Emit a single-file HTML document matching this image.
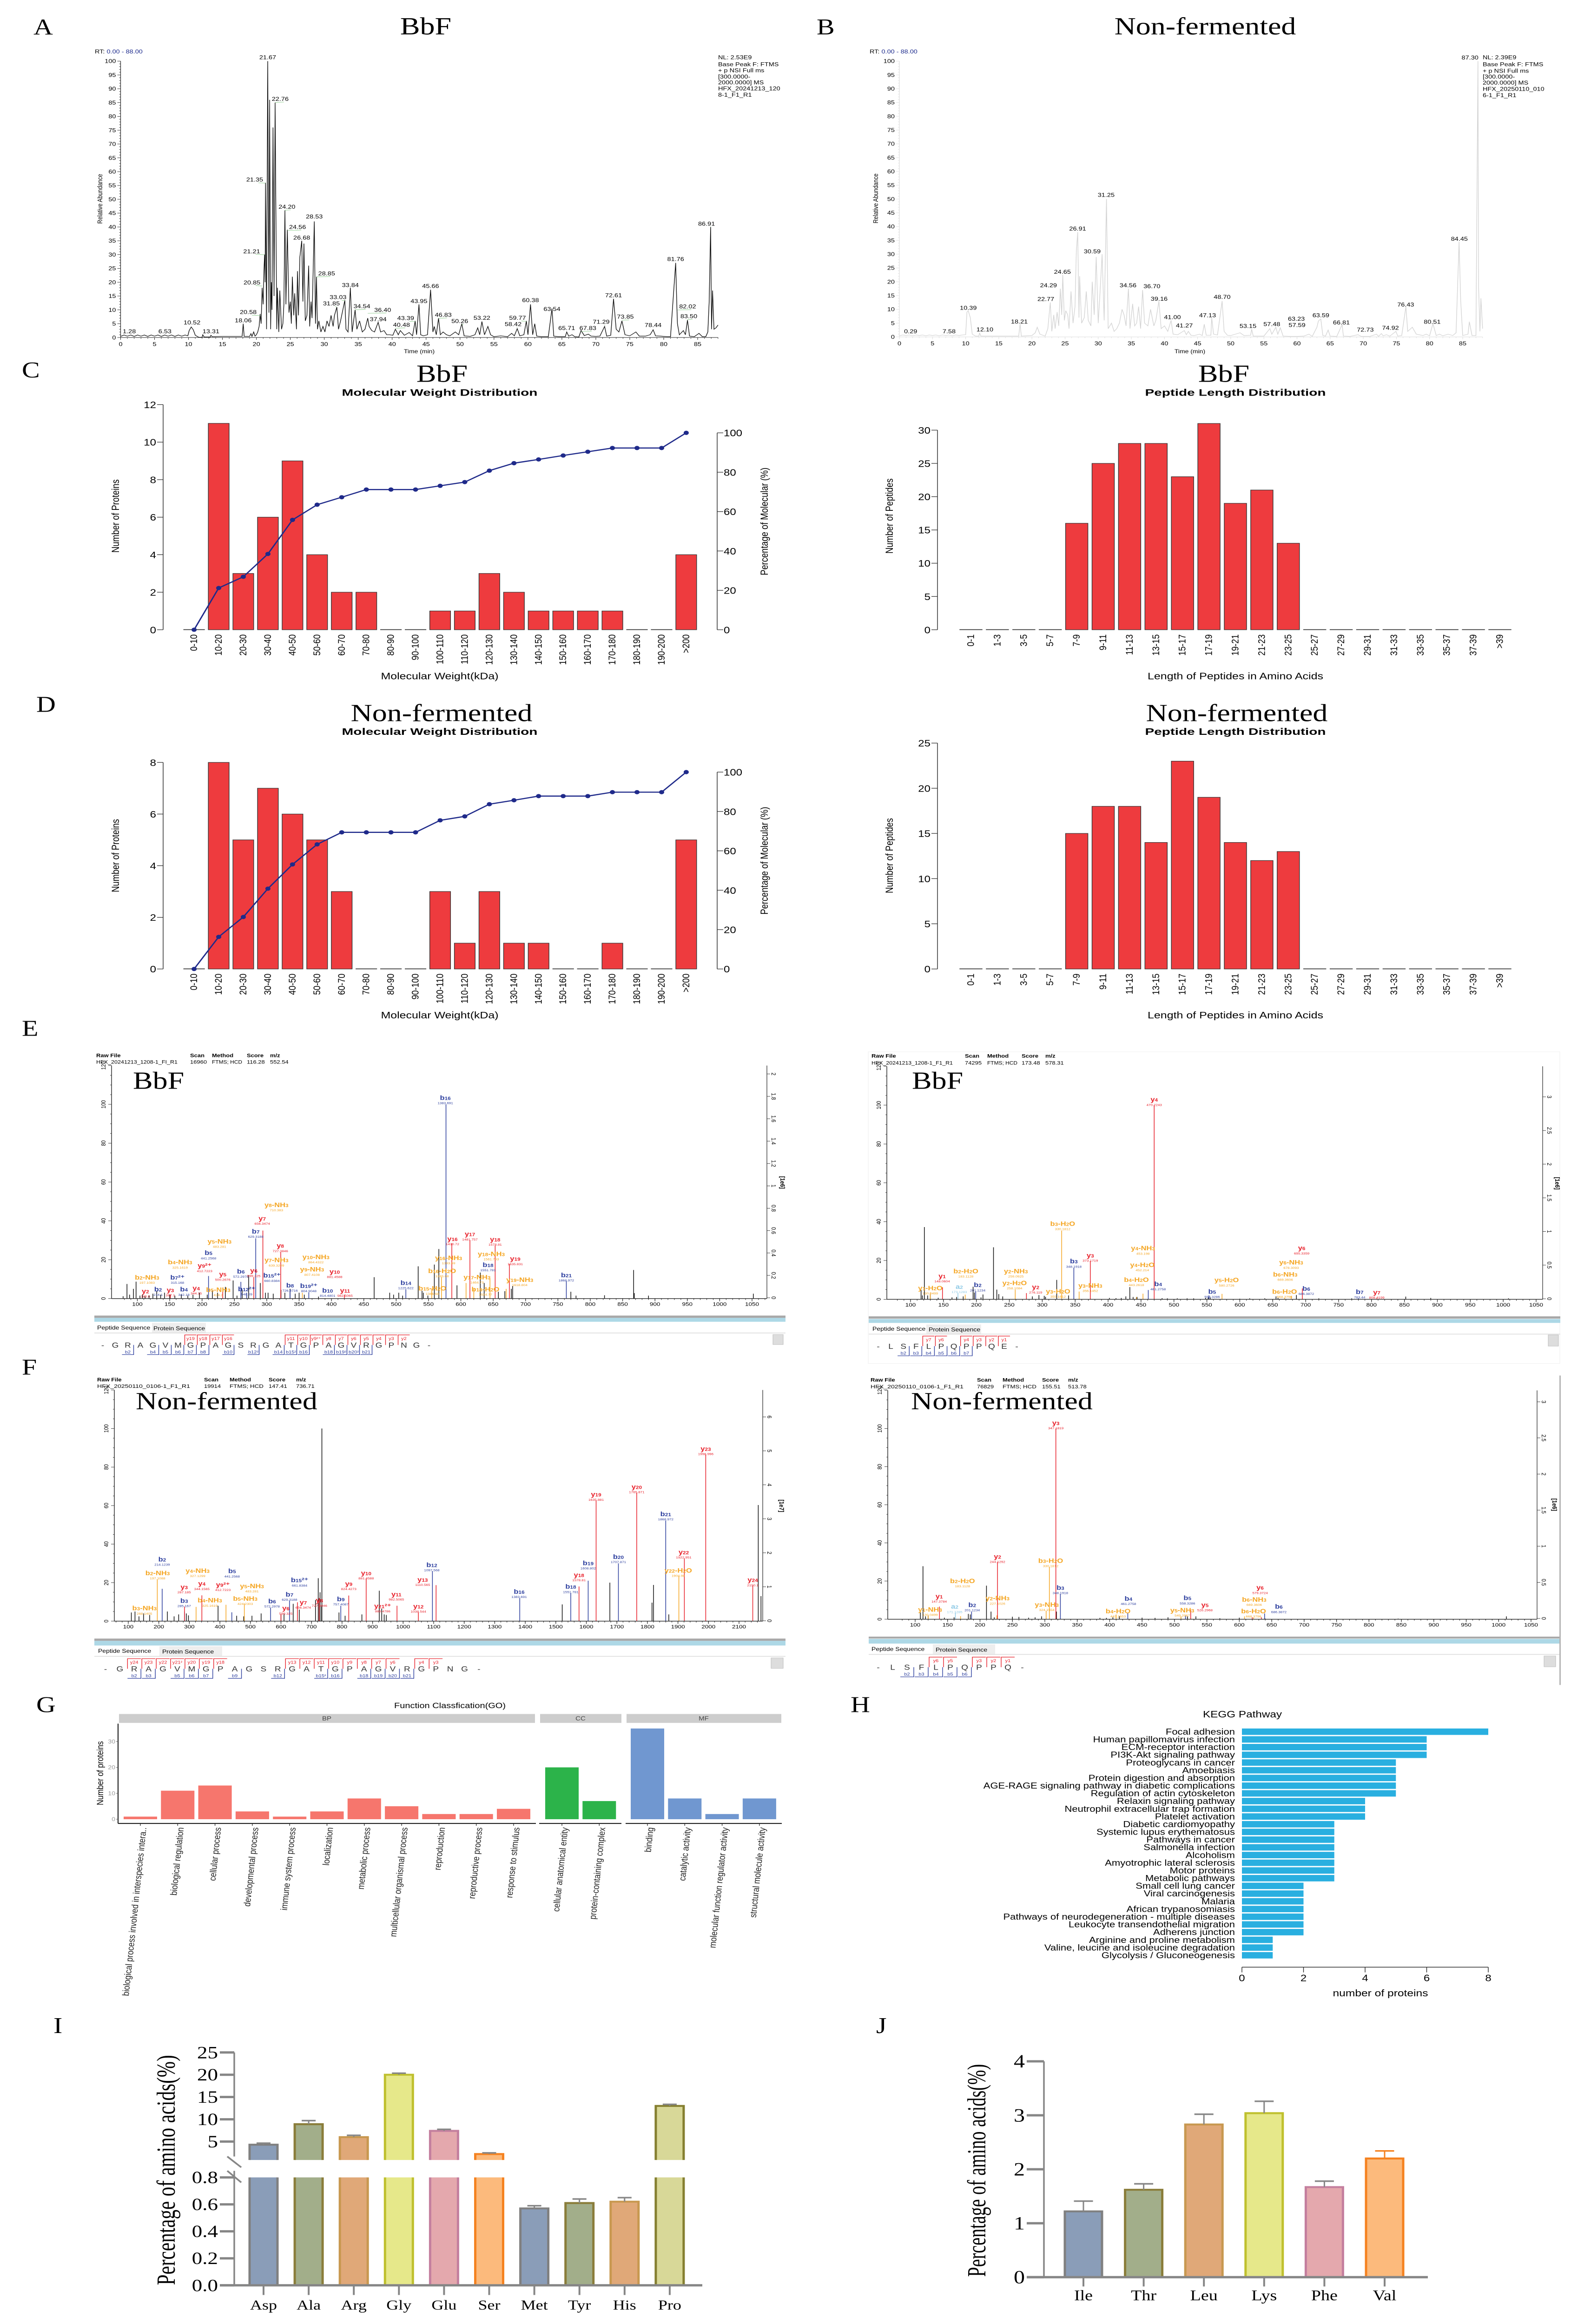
<!DOCTYPE html>
<html lang="en">
<head>
<meta charset="utf-8">
<title>Proteomics composite figure</title>
<style>
html,body{margin:0;padding:0;background:#fff;width:3380px;height:100%;overflow:hidden;}
svg{display:block;position:absolute;left:0;top:0;width:3380px;height:min(100vh,6008px);fill:#000;overflow:hidden;}
text{font-family:"Liberation Sans",Arial,sans-serif;}
.serif{font-family:"Liberation Serif","Times New Roman",serif;}
.panel{font-size:58px;}
.head{font-size:64px;}
.hdr{font-size:13px;}
.hdrb{font-size:13px;font-weight:bold;}
.tab{font-size:14px;}
.spanlabel{font-size:15px;fill:#444;}
</style>
</head>
<body>
<svg id="figure" xmlns="http://www.w3.org/2000/svg" viewBox="0 0 3380 6008" preserveAspectRatio="none">
<rect x="0" y="0" width="3380" height="6008" fill="#fff"/>

<text class="serif panel" x="72" y="89">A</text>
<text class="serif head" x="916" y="89" text-anchor="middle">BbF</text>
<text x="204" y="138" font-size="14.5">RT: <tspan fill="#1c2a8c">0.00 - 88.00</tspan></text>
<text font-size="14.5" text-anchor="middle" transform="translate(220 514) rotate(-90)">Relative Abundance</text>
<text font-size="14" text-anchor="middle" x="902" y="913">Time (min)</text>
<g font-size="14.5">
<text x="1545" y="153">NL: 2.53E9</text>
<text x="1545" y="171">Base Peak F: FTMS</text>
<text x="1545" y="187">+ p NSI Full ms</text>
<text x="1545" y="203">[300.0000-</text>
<text x="1545" y="218">2000.0000] MS</text>
<text x="1545" y="234">HFX_20241213_120</text>
<text x="1545" y="250">8-1_F1_R1</text>
</g>

<text class="serif panel" x="1757" y="89">B</text>
<text class="serif head" x="2593" y="89" text-anchor="middle">Non-fermented</text>
<text x="1871" y="138" font-size="14.5">RT: <tspan fill="#1c2a8c">0.00 - 88.00</tspan></text>
<text font-size="14.5" text-anchor="middle" transform="translate(1889 513) rotate(-90)">Relative Abundance</text>
<text font-size="14" text-anchor="middle" x="2560" y="913">Time (min)</text>
<g font-size="14.5">
<text x="3190" y="153">NL: 2.39E9</text>
<text x="3190" y="171">Base Peak F: FTMS</text>
<text x="3190" y="188">+ p NSI Full ms</text>
<text x="3190" y="203">[300.0000-</text>
<text x="3190" y="219">2000.0000] MS</text>
<text x="3190" y="235">HFX_20250110_010</text>
<text x="3190" y="251">6-1_F1_R1</text>
</g>

<text class="serif panel" x="47" y="976">C</text>
<text class="serif head" x="951" y="987" text-anchor="middle">BbF</text>
<text class="serif head" x="2633" y="987" text-anchor="middle">BbF</text>
<text font-size="24" font-weight="bold" x="946" y="1023" text-anchor="middle" textLength="421" lengthAdjust="spacingAndGlyphs">Molecular Weight Distribution</text>
<text font-size="24" font-weight="bold" x="2658" y="1023" text-anchor="middle" textLength="389" lengthAdjust="spacingAndGlyphs">Peptide Length Distribution</text>
<text font-size="24" x="946" y="1756" text-anchor="middle" textLength="253" lengthAdjust="spacingAndGlyphs">Molecular Weight(kDa)</text>
<text font-size="24" x="2658" y="1756" text-anchor="middle" textLength="378" lengthAdjust="spacingAndGlyphs">Length of Peptides in Amino Acids</text>
<text font-size="22" text-anchor="middle" transform="translate(256 1334) rotate(-90)">Number of Proteins</text>
<text font-size="22" text-anchor="middle" transform="translate(1921 1334) rotate(-90)">Number of Peptides</text>
<text font-size="22" text-anchor="middle" transform="translate(1652 1348) rotate(-90)">Percentage of Molecular (%)</text>

<text class="serif panel" x="78" y="1840">D</text>
<text class="serif head" x="950" y="1864" text-anchor="middle">Non-fermented</text>
<text class="serif head" x="2661" y="1864" text-anchor="middle">Non-fermented</text>
<text font-size="24" font-weight="bold" x="946" y="1900" text-anchor="middle" textLength="421" lengthAdjust="spacingAndGlyphs">Molecular Weight Distribution</text>
<text font-size="24" font-weight="bold" x="2658" y="1900" text-anchor="middle" textLength="389" lengthAdjust="spacingAndGlyphs">Peptide Length Distribution</text>
<text font-size="24" x="946" y="2633" text-anchor="middle" textLength="253" lengthAdjust="spacingAndGlyphs">Molecular Weight(kDa)</text>
<text font-size="24" x="2658" y="2633" text-anchor="middle" textLength="378" lengthAdjust="spacingAndGlyphs">Length of Peptides in Amino Acids</text>
<text font-size="22" text-anchor="middle" transform="translate(256 2212) rotate(-90)">Number of Proteins</text>
<text font-size="22" text-anchor="middle" transform="translate(1921 2212) rotate(-90)">Number of Peptides</text>
<text font-size="22" text-anchor="middle" transform="translate(1652 2225) rotate(-90)">Percentage of Molecular (%)</text>

<text class="serif panel" x="47" y="2678">E</text>
<text class="serif head" x="286" y="2815">BbF</text>
<text class="serif head" x="1962" y="2815">BbF</text>
<g>
<text class="hdrb" x="207" y="2733">Raw File</text>
<text class="hdrb" x="409" y="2733">Scan</text>
<text class="hdrb" x="456" y="2733">Method</text>
<text class="hdrb" x="531" y="2733">Score</text>
<text class="hdrb" x="581" y="2733">m/z</text>
<text class="hdr" x="207" y="2750" textLength="175" lengthAdjust="spacingAndGlyphs">HFX_20241213_1208-1_FI_R1</text>
<text class="hdr" x="409" y="2750">16960</text>
<text class="hdr" x="456" y="2750" textLength="65" lengthAdjust="spacingAndGlyphs">FTMS; HCD</text>
<text class="hdr" x="531" y="2750">116.28</text>
<text class="hdr" x="581" y="2750">552.54</text>
</g>
<g>
<text class="hdrb" x="1875" y="2734">Raw File</text>
<text class="hdrb" x="2076" y="2734">Scan</text>
<text class="hdrb" x="2124" y="2734">Method</text>
<text class="hdrb" x="2198" y="2734">Score</text>
<text class="hdrb" x="2249" y="2734">m/z</text>
<text class="hdr" x="1875" y="2752" textLength="175" lengthAdjust="spacingAndGlyphs">HFX_20241213_1208-1_F1_R1</text>
<text class="hdr" x="2076" y="2752">74295</text>
<text class="hdr" x="2124" y="2752" textLength="65" lengthAdjust="spacingAndGlyphs">FTMS; HCD</text>
<text class="hdr" x="2198" y="2752">173.48</text>
<text class="hdr" x="2249" y="2752">578.31</text>
</g>
<rect x="1868" y="2719" width="1488" height="806" fill="none" stroke="#eee"/>
<rect x="203" y="3401" width="1487" height="6" fill="#a8a8a8"/>
<rect x="203" y="3407" width="1487" height="10" fill="#add8e6"/>
<rect x="327" y="3420" width="116" height="26" fill="#eee"/>
<text class="tab" x="209" y="3437">Peptide Sequence</text>
<text class="tab" x="330" y="3439">Protein Sequence</text>
<line x1="203" x2="1690" y1="3446" y2="3446" stroke="#ddd" stroke-width="2"/>
<rect x="1663" y="3450" width="22" height="26" fill="#ddd" stroke="#bbb"/>
<rect x="1869" y="3403" width="1488" height="6" fill="#a8a8a8"/>
<rect x="1869" y="3410" width="1488" height="10" fill="#add8e6"/>
<rect x="1993" y="3424" width="118" height="25" fill="#eee"/>
<text class="tab" x="1877" y="3440">Peptide Sequence</text>
<text class="tab" x="1998" y="3442">Protein Sequence</text>
<line x1="1869" x2="3357" y1="3449" y2="3449" stroke="#ddd" stroke-width="2"/>
<rect x="3331" y="3451" width="22" height="29" fill="#ddd" stroke="#bbb"/>

<text class="serif panel" x="47" y="3554">F</text>
<text class="serif head" x="292" y="3643">Non-fermented</text>
<text class="serif head" x="1960" y="3643">Non-fermented</text>
<g>
<text class="hdrb" x="209" y="3571">Raw File</text>
<text class="hdrb" x="439" y="3571">Scan</text>
<text class="hdrb" x="494" y="3571">Method</text>
<text class="hdrb" x="578" y="3571">Score</text>
<text class="hdrb" x="637" y="3571">m/z</text>
<text class="hdr" x="209" y="3588" textLength="200" lengthAdjust="spacingAndGlyphs">HFX_20250110_0106-1_F1_R1</text>
<text class="hdr" x="439" y="3588">19914</text>
<text class="hdr" x="494" y="3588" textLength="73" lengthAdjust="spacingAndGlyphs">FTMS; HCD</text>
<text class="hdr" x="578" y="3588">147.41</text>
<text class="hdr" x="637" y="3588">736.71</text>
</g>
<g>
<text class="hdrb" x="1873" y="3572">Raw File</text>
<text class="hdrb" x="2102" y="3572">Scan</text>
<text class="hdrb" x="2157" y="3572">Method</text>
<text class="hdrb" x="2242" y="3572">Score</text>
<text class="hdrb" x="2298" y="3572">m/z</text>
<text class="hdr" x="1873" y="3589" textLength="200" lengthAdjust="spacingAndGlyphs">HFX_20250110_0106-1_F1_R1</text>
<text class="hdr" x="2102" y="3589">76829</text>
<text class="hdr" x="2157" y="3589" textLength="73" lengthAdjust="spacingAndGlyphs">FTMS; HCD</text>
<text class="hdr" x="2242" y="3589">155.51</text>
<text class="hdr" x="2298" y="3589">513.78</text>
</g>
<rect x="203" y="4236" width="1487" height="6" fill="#a8a8a8"/>
<rect x="203" y="4242" width="1487" height="12" fill="#add8e6"/>
<rect x="343" y="4256" width="135" height="26" fill="#eee"/>
<text class="tab" x="211" y="4273">Peptide Sequence</text>
<text class="tab" x="349" y="4275">Protein Sequence</text>
<line x1="203" x2="1690" y1="4282" y2="4282" stroke="#ddd" stroke-width="2"/>
<rect x="1659" y="4286" width="26" height="27" fill="#ddd" stroke="#bbb"/>
<rect x="1869" y="4231" width="1486" height="5" fill="#a8a8a8"/>
<rect x="1869" y="4237" width="1486" height="12" fill="#add8e6"/>
<rect x="3355" y="3556" width="3" height="800" fill="#b5b5b5"/>
<rect x="2007" y="4251" width="134" height="26" fill="#eee"/>
<text class="tab" x="1875" y="4268">Peptide Sequence</text>
<text class="tab" x="2013" y="4270">Protein Sequence</text>
<line x1="1869" x2="3355" y1="4277" y2="4277" stroke="#ddd" stroke-width="2"/>
<rect x="3322" y="4281" width="25" height="28" fill="#ddd" stroke="#bbb"/>

<text class="serif panel" x="78" y="4426">G</text>
<text font-size="20" x="968" y="4416" text-anchor="middle" textLength="240" lengthAdjust="spacingAndGlyphs">Function Classfication(GO)</text>
<rect x="256" y="4431" width="895" height="23" fill="#cdcdcd"/>
<rect x="1162" y="4431" width="175" height="23" fill="#cdcdcd"/>
<rect x="1348" y="4431" width="333" height="23" fill="#cdcdcd"/>
<text class="spanlabel" x="703" y="4448" text-anchor="middle">BP</text>
<text class="spanlabel" x="1249" y="4448" text-anchor="middle">CC</text>
<text class="spanlabel" x="1514" y="4448" text-anchor="middle">MF</text>
<text font-size="19.5" text-anchor="middle" transform="translate(222 4584) rotate(-90)">Number of proteins</text>

<text class="serif panel" x="1830" y="4426">H</text>
<text font-size="24" x="2673" y="4440" text-anchor="middle" textLength="170" lengthAdjust="spacingAndGlyphs">KEGG Pathway</text>
<text font-size="24" x="2970" y="5161" text-anchor="middle" textLength="205" lengthAdjust="spacingAndGlyphs">number of proteins</text>

<text class="serif panel" x="115" y="5256">I</text>
<text class="serif panel" x="1885" y="5256">J</text>
<text class="serif" font-size="56" text-anchor="middle" textLength="595" lengthAdjust="spacingAndGlyphs" transform="translate(376 5610) rotate(-90)">Percentage of amino acids(%)</text>
<text class="serif" font-size="56" text-anchor="middle" textLength="550" lengthAdjust="spacingAndGlyphs" transform="translate(2120 5611) rotate(-90)">Percentage of amino acids(%)</text>
</svg>

<script>
/* ---------- Panel A: base peak chromatogram (BbF) ---------- */
const chromATime = [
0,.5,1,1.5,2,2.5,3,3.5,4,4.5,5,5.5,6,6.5,7,7.5,8,8.5,9,9.5,
9.9,10.1,10.4,10.7,11,11.5,12,12.1,12.3,13.2,
13.3,13.5,15,17.9,18.06,18.2,19,19.2,19.35,19.6,
19.8,20,20.2,20.4,20.55,20.7,20.85,21,21.1,21.21,
21.28,21.35,21.5,21.67,21.85,21.95,22.1,22.2,22.3,22.45,
22.6,22.76,23,23.1,23.3,23.45,23.7,23.9,24.05,24.2,
24.35,24.56,24.8,25,25.15,25.3,25.5,25.65,25.9,26.05,
26.2,26.4,26.68,26.85,27,27.2,27.45,27.7,27.85,28.05,
28.2,28.53,28.7,28.85,29,29.2,29.5,29.8,30.1,30.4,
30.7,31,31.3,31.5,31.85,32.1,32.4,33.03,33.2,33.5,
33.84,34.1,34.54,34.8,35.2,35.6,36,36.4,36.6,37,
37.4,37.94,38.3,38.8,39.2,39.6,40.1,40.48,40.9,41.2,
41.8,42.5,43,43.39,43.6,43.95,44.2,44.6,45.2,45.66,
46,46.2,46.5,46.83,47.1,47.5,48,48.5,49.3,49.8,
50.26,50.6,51.5,52.2,52.6,52.9,53.22,53.6,54.1,54.5,
55,56,57,57.6,58,58.42,58.8,59.4,59.77,60,
60.38,60.7,61,61.3,62,63,63.54,63.8,64.5,65.5,
65.71,66,66.5,66.9,67.5,67.83,68.3,68.9,69.3,70,
70.6,71.29,71.6,72.2,72.61,73,73.4,73.85,74.3,75,
75.9,76.4,77.3,78,78.44,78.8,79.5,80.5,81,81.76,
81.95,82.02,82.3,82.9,83.2,83.5,83.8,84.5,85.2,85.7,
86.2,86.5,86.7,86.91,87.05,87.2,87.4,87.7,88];
const chromAAbund = [
.4,.9,.5,.9,.4,.9,.5,.9,.4,.9,.5,.9,.4,.9,.5,.9,.4,.9,.5,.9,
.6,2.5,3.8,2.8,.8,.1,.1,1,.2,.2,
.8,.3,.4,.4,5,.4,.4,1.4,.4,2,
.5,1,2,4,8.5,5,18,12,24,30,
20,56,3,100,9,86,3,20,10,76,
15,85,3,18,2,17,3,5,12,46,
12,39,9,13,5,22,8,16,3,24,
8,29,35,13,34,6,8,26,4,13,
7,42,5,22,3,6,2,4,2,6,
4,8,4,8,11,3,6,13.5,3,2,
18,2,10,3,6,2,3,7,4,2.5,
2,5.5,2,2.5,1,1,.8,3,1,2.5,
.8,1.8,.6,6,1,12,1,.6,1,17.3,
2,4,1,7,1,2,1,.6,2,1,
5,.6,.4,1,3.5,1,5.8,1,4,1,
.3,.6,.3,1.5,.6,3.2,.6,1,6,1,
12,1,5,.5,.3,.3,10.5,.5,.3,.3,
2,.5,1,.3,.2,2.5,.7,1.2,.5,.4,
.5,4,.5,.8,14,3,2,6,1,.6,
2,.5,.5,1,2.8,.6,.5,.3,.3,27,
10,5,1,2.5,1,6.3,.5,.3,1.5,.3,
.3,2,13,40,3,17,3,3.5,4.5];
const chromALabelRt = ['1.28','6.53','10.52','13.31','18.06','20.58','20.85','21.21','21.35','21.67','22.76','24.20','24.56','26.68','28.53','28.85','31.85','33.03','33.84','34.54','36.40','37.94','40.48','43.39','43.95','45.66','46.83','50.26','53.22','58.42','59.77','60.38','63.54','65.71','67.83','71.29','72.61','73.85','78.44','81.76','82.02','83.50','86.91'];
const chromALabelAbund = [2.2,2.2,5.4,2.2,6.2,9.2,19.9,31.2,57.1,101.4,86.3,47.3,40,36.1,43.8,23.2,12.3,14.6,19,11.3,10,6.6,4.6,7,13.2,18.6,8.2,5.9,7.1,4.8,7.1,13.5,10.3,3.4,3.4,5.7,15.3,7.5,4.5,28.4,11.2,7.7,41.2];
const chromALabelShift = [0,0,0,0,0,-1.78,-1.5,-1.9,-1.6,0,.75,.3,1.5,0,0,1.5,-.8,-1,0,1,2.2,0,.9,-1.4,0,0,.7,-.3,0,-.6,-1.3,0,0,0,1,-.5,0,.5,0,0,1.5,.2,-.6];

/* ---------- Panel B: base peak chromatogram (non-fermented) ---------- */
const chromBTime = [
0,.5,1,1.5,2,2.5,3,3.5,4,4.5,5,5.5,6,6.5,7,7.5,8,8.5,9,9.5,
10,10.2,10.39,10.7,11,11.5,12,12.1,12.3,13,
18,18.21,18.4,20,20.5,20.8,21.2,22,22.4,22.77,
23,23.3,23.5,23.8,24.05,24.29,24.5,24.65,24.9,25.1,
25.4,25.6,25.9,26.2,26.5,26.7,26.91,27.1,27.2,27.5,
27.9,28.2,28.5,28.9,29.1,29.4,29.7,30,30.3,30.59,
30.9,31.25,31.5,32,32.4,32.8,33.2,33.6,33.9,34.2,
34.56,34.8,35.2,35.5,35.8,36.1,36.4,36.7,37,37.5,
37.9,38.4,38.7,39.16,39.5,40,40.5,41,41.3,42,
43,43.3,43.6,44,44.5,45.3,45.7,46,46.3,47,
47.13,47.4,48,48.7,49,49.5,50,51.4,52,53,
53.15,53.4,55,55.9,56.2,56.8,57.1,57.48,57.9,59,
60,61,61.8,62.3,63,63.23,63.59,63.9,64.3,64.7,
65,66,66.81,67,68,69.2,69.7,71,72,72.3,
72.73,73,73.5,74,74.92,75.2,75.8,76.43,76.7,77.4,
78,79,79.5,80,80.51,81,81.5,82,82.8,83.5,
84,84.45,84.7,85,85.8,86,86.4,87,87.3,87.4,
87.6,87.75,88];
const chromBAbund = [
.4,.7,.5,.7,.4,.7,.5,.7,.4,.7,.5,.7,.4,.7,.5,.7,.4,.7,.5,.7,
.8,9,9.5,7,1,.3,.3,1.5,.3,.3,
.3,4.7,.3,.5,1.5,3.5,1,.3,3,12.5,
2,8,3,9,4,17.5,8,22.5,6,9.5,
8,3,16.5,5,11,31,38,7,22,5,
7,16.5,6,4,20,8,29,5,17,30,
6,50,3,5,2,3,5,10,8,4,
17.5,3,12,4,5,11,3,17,5,4,
10,4,6,13,3,4,2,6,1,.8,
2.3,.8,2,.6,.5,1,.5,4.6,.6,.6,
7,1,.7,13,2,.6,.5,1.5,.5,.6,
2.8,.3,.3,3,1,3.5,1,3.3,.3,.2,
.2,.3,1,.2,3.5,5.8,6.5,.5,.3,2.5,
.3,.2,4.5,.3,.2,.8,.2,.2,1,.2,
1.2,.4,.8,.3,2,.3,.5,11,2,3.5,
1,.5,1,.4,4.8,.5,1,.4,1,.5,
1.5,34.5,13,.5,1,5.5,.5,.5,100,18,
2,14,3];
const chromBLabelRt = ['0.29','7.58','10.39','12.10','18.21','22.77','24.29','24.65','26.91','30.59','31.25','34.56','36.70','39.16','41.00','41.27','47.13','48.70','53.15','57.48','57.59','63.23','63.59','66.81','72.73','74.92','76.43','80.51','84.45','87.30'];
const chromBLabelPos = [1.7,7.5,10.4,12.9,18.1,22.1,22.5,24.6,26.9,29.1,31.2,34.5,38.1,39.2,41.2,43,46.5,48.7,52.6,56.2,60,59.9,63.6,66.7,70.3,74.1,76.4,80.4,84.5,86.1];
const chromBLabelAbund = [2,2,10.5,2.7,5.6,13.7,18.7,23.6,39.3,31,51.5,18.7,18.4,13.8,7.2,4.1,7.8,14.5,4,4.6,4.3,6.6,7.8,5.2,2.6,3.3,11.7,5.5,35.6,101.3];
const chromYTicks = [0,5,10,15,20,25,30,35,40,45,50,55,60,65,70,75,80,85,90,95,100];
const chromXTicks = [0,5,10,15,20,25,30,35,40,45,50,55,60,65,70,75,80,85];

/* ---------- Panels C, D: size distributions ---------- */
const mwCategories = ['0-10','10-20','20-30','30-40','40-50','50-60','60-70','70-80','80-90','90-100','100-110','110-120','120-130','130-140','140-150','150-160','160-170','170-180','180-190','190-200','>200'];
const lengthCategories = ['0-1','1-3','3-5','5-7','7-9','9-11','11-13','13-15','15-17','17-19','19-21','21-23','23-25','25-27','27-29','29-31','31-33','33-35','35-37','37-39','>39'];
const mwBbfCounts = [0,11,3,6,9,4,2,2,0,0,1,1,3,2,1,1,1,1,0,0,4];
const mwBbfPercent = [0,21.2,26.9,38.5,55.8,63.5,67.3,71.2,71.2,71.2,73.1,75,80.8,84.6,86.5,88.5,90.4,92.3,92.3,92.3,100];
const lengthBbfCounts = [0,0,0,0,16,25,28,28,23,31,19,21,13,0,0,0,0,0,0,0,0];
const mwNonCounts = [0,8,5,7,6,5,3,0,0,0,3,1,3,1,1,0,0,1,0,0,5];
const mwNonPercent = [0,16.3,26.4,40.8,53.1,63.3,69.4,69.4,69.4,69.4,75.5,77.5,83.7,85.7,87.8,87.8,87.8,89.8,89.8,89.8,100];
const lengthNonCounts = [0,0,0,0,15,18,18,14,23,19,14,12,13,0,0,0,0,0,0,0,0];
const mwBbfYTicks = [0,2,4,6,8,10,12];
const mwNonYTicks = [0,2,4,6,8];
const lengthBbfYTicks = [0,5,10,15,20,25,30];
const lengthNonYTicks = [0,5,10,15,20,25];
const percentTicks = [0,20,40,60,80,100];

/* ---------- Panels E, F: annotated MS/MS spectra ---------- */
const specTicks50 = [100,150,200,250,300,350,400,450,500,550,600,650,700,750,800,850,900,950,1000,1050];
const specTicks100 = [100,200,300,400,500,600,700,800,900,1000,1100,1200,1300,1400,1500,1600,1700,1800,1900,2000,2100];
const specYTicks = [0,20,40,60,80,100,120];

const e1BlackMz = [78,84,88,94,98,104,108,112,118,124,130,136,142,150,158,168,178,186,196,208,216,224,236,248,254,262,272,290,298,302,310,322,328,336,344,350,358,380,466,490,496,504,510,534,540,542,549,559,566,594,630,636,658,668,678,680,770,778,822,867,868,890,1052];
const e1BlackInt = [1.2,7.5,2,5,8.7,1.5,2,1.2,1.5,2.5,4,2,3,2,1.5,2,1.5,2,3,2,4,3,6,9.3,1.5,4.5,12,8,3,3,2.5,4.5,3,5,2.5,3,2,1,11,3,2,3,1.5,16.6,4,3,1.5,17.5,25.5,6.8,13.4,8,3.5,3.8,5,6.5,3.5,1.5,1.7,14.7,2.8,1.5,2.5];
const e1BlueMz = [577,283,763,515,210,260,336,365,269];
const e1BlueInt = [100,31,9,4.7,11.6,8.6,4.5,3.2,3];
const e1RedMz = [294,321.6,586,614,653,675,232,280,420,151];
const e1RedInt = [35,24,28.5,30,27.4,17.7,3.5,11,2,2];
const e1OrangeMz = [355,608,570,645,555,620,670];
const e1OrangeInt = [3,8,11,10,5,5,5];
const e1LabelText = ['b2-NH3','y2','b2','y3','b4','y4','b7²⁺','b4-NH3','y9²⁺','b5','y5-NH3','y5','b5-NH3','b6','y6','b12²⁺','b7','y7','y8-NH3','y8','y7-NH3','b15²⁺','b8','b19²⁺','b10','y9-NH3','y10-NH3','y10','y11','b14','b15-H2O','y16-NH3','b16-H2O','b16','y16','y17','y17-NH3','b18-H2O','y18','y18-NH3','b18','y19','y19-NH3','b21'];
const e1LabelSub = ['197.1083','145.0','214.1','287.1','342.18','344.15','315.168','325.1619','412.7223','441.2568','483.281','500.2676','424.2','572.2978','599.325','548.29','629.3188','656.3474','710.383','727.3846','639.3209','660.8384','726.3716','804.9048','814.4801','807.4108','864.4322','881.4588','982.5065','1225.622','1366.68','1393.69','1365.68','1383.691','1410.72','1481.757','1464.73','1534.77','1578.81','1561.783','1551.781','1635.831','1618.804','1868.972'];
const e1LabelMz = [115,112.5,132,151,172,191,162,166,204,210,227,232,225,260,280,269,283,293,315,321,315,308,336,365,394,370,376,405,421,515,556,581,571,576,587,614,625,638,653,647,642,684,691,763];
const e1LabelInt = [11,3.9,4.8,4.5,4.8,5.5,11,18.8,17,23.6,29.5,12.6,4.6,14.1,14.5,5,34.7,41.4,48.3,27.3,19.9,12,6.9,6.7,4.3,15.1,21.5,14,4.3,8.2,5.3,21,14.3,103.5,30.8,33.3,11.1,4.9,30.6,23.1,17.4,20.6,9.8,12.2];
const e1RightTicks = [0,.2,.4,.6,.8,1,1.2,1.4,1.6,1.8,2];

const e2BlackMz = [116,118,121,126,130,142,163,170,180,195,197,207,210,226,231,234,240,285,295,303,305,322,340,402,412,420,427,433,438,444,482,490,505,520,530,548,552,555,600,615,638,655,658,686,720,770,852,890,1008];
const e2BlackInt = [4.8,2,37.2,2,2.4,.8,1,1.2,1.5,6.5,3.5,1,2.5,26.8,5,2.7,1.5,1.5,2.2,1.8,1.3,10,2,.7,.6,.7,1.5,6.3,1.2,1.2,.6,.5,.5,.5,.5,.8,1,1,.3,.5,.5,1.5,.8,2.2,.5,.5,1.4,.7,.5];
const e2BlueMz = [348,199,461,553,780];
const e2BlueInt = [16.2,4,4.8,2,.5];
const e2RedMz = [470,373,276,148.5,695,808];
const e2RedInt = [100,19.7,3.2,6.2,5.6,.5];
const e2OrangeMz = [329.5,259,356,453,443,183,130,573,668,678];
const e2OrangeInt = [35.4,5,4,2.9,1.2,2.4,3.5,2.8,.7,1.8];
const e2AionMz = [172];
const e2AionInt = [3.3];
const e2LabelText = ['y4','b3-H2O','y4-NH3','y4-H2O','y3','b3','y6','y6-NH3','b6-NH3','y5-H2O','b4-H2O','b4','b5','b6-H2O','b6','b7','y7','y3-NH3','y3-H2O','y2','y2-NH3','y2-H2O','b2-H2O','y1','y1-H2O','a2','b2'];
const e2LabelSub = ['470.2243','330.1812','453.198','452.214','373.1719','348.1918','695.3359','678.3093','669.3606','580.2726','443.2618','461.2758','558.3286','668.3796','686.3872','783.44','808.4199','356.1452','355.1612','276.119','259.0925','258.1084','183.1128','148.0604','130.0499','173.1283','201.1234'];
const e2LabelMz = [470,331,453,452,373,348,694,678,669,580,443,476,558,668,701,782,808,373,324,290,260,258,184,148,130,174,202];
const e2LabelInt = [103,39,26.4,17.8,22.7,19.7,26.5,19.1,12.9,10,10.2,8,4.1,4.1,5.6,3.9,3.7,7.2,4.2,6.4,14.6,8.5,14.6,12.1,5.9,6.6,7.5];
const e2RightTicks = [0,.5,1,1.5,2,2.5,3];

const f1BlackMz = [110,122,135,150,170,228,250,265,290,297,394,455,478,505,535,600,610,640,660,713,722,728,733,734,790,810,865,922,930,938,945,1521,1677,1815,1820,1870,2163,2172];
const f1BlackInt = [4.5,5,2.5,4,3.2,5,2.5,3.5,4,3,8,2.8,2.5,2.8,4,3.5,3.8,9,6,11,22.3,15,8,100,4.5,2.8,3.5,15.8,6.5,3.5,3.2,8.7,20,9.6,18.8,3.5,60.3,13];
const f1RedMz = [284,341,600,654,725,822,879,980,1050,1108,1576,1632,1765,1921,1991,2145];
const f1RedInt = [7.6,13.4,3.5,9.8,12,13.3,22,8,4.6,18.7,18,62.6,66.7,32.6,86.5,18.5];
const f1BlueMz = [211,284,439,566,628,796,1096,1382,1549,1606,1705,1860];
const f1BlueInt = [16.8,5,4.6,7,10.7,8,26,12,14.5,21,30,52.2];
const f1OrangeMz = [195,322,420,480,1903];
const f1OrangeInt = [21.7,7.4,8.5,9.2,23.4];
const f1LabelText = ['b2','b2-NH3','b3-NH3','y3','b3','y4-NH3','y4','b4-NH3','y9²⁺','b5','y5-NH3','b5-NH3','b6','y6','b7','b15²⁺','y7','y8','b9','y9','y10','y21²⁺','y11','y12','y13','b12','b16','b18','y18','b19','y19','b20','y20','b21','y22-H2O','y22','y23','y24'];
const f1LabelSub = ['214.1239','197.1088','268.1405','287.185','285.167','327.1299','344.1565','325.1619','412.7223','441.2568','483.281','424.2303','572.2978','599.325','629.3188','661.8384','656.3474','727.3846','757.4087','824.4273','881.4588','988.4786','982.5065','1038.544','1110.565','1097.568','1383.691','1551.781','1578.81','1608.802','1635.881','1707.871','1765.871','1868.972','1904.98','1922.951','1998.996','2150.1'];
const f1LabelMz = [211,196,153,283,283,327,341,367,410,440,505,483,571,616,628,661,673,726,796,822,879,933,978,1050,1064,1094,1380,1549,1576,1606,1632,1705,1765,1860,1901,1919,1991,2145];
const f1LabelInt = [32.2,25.1,6.8,17.8,10.7,26.3,19.6,10.9,19,26.1,18.3,11.8,10.5,6.8,14,21.4,9.9,10.9,11.6,19.5,25.1,7.9,14.1,7.8,21.7,29.3,15.4,18,24.1,30.3,65.9,33.5,69.8,55.7,26.4,35.9,89.6,21.5];
const f1RightTicks = [0,1,2,3,4,5,6];

const f2BlackMz = [112,108,116,120,145,160,182,185,210,217,222,250,260,275,285,295,318,385,395,405,415,450,470,490,510,520,533,570,600,640,845,1012];
const f2BlackInt = [27.8,3.5,1.5,2,.8,1,2.8,2.5,17.6,4,1,1.3,1.2,.8,1,1.5,4,.7,.7,1,1.5,.8,.7,1,1,1.5,1.5,.5,.8,.3,.3,1.5];
const f2RedMz = [317,227,137.5,525,634,620];
const f2RedInt = [100,30,6.6,5,1,1];
const f2BlueMz = [324,187,428,517,639];
const f2BlueInt = [13.2,4,3.3,1.8,3];
const f2OrangeMz = [307,302,120,170,226,410,510,608,622];
const f2OrangeInt = [27.5,4.4,2,1.6,2,2.5,1.5,1.5,.8];
const f2AionMz = [162];
const f2AionInt = [3.5];
const f2LabelText = ['y3','y2','b3-H2O','b2-H2O','b3','y6','b6-NH3','b4','b5','y5','y5-NH3','b4-H2O','b6-H2O','b6','y1','a2','b2','y2-NH3','y3-NH3','y1-NH3'];
const f2LabelSub = ['347.1819','244.1292','330.1812','183.1128','348.1918','579.3724','669.3606','461.2758','558.3286','526.2968','549.2967','443.2653','668.3796','686.3872','147.3784','171.1285','201.1234','227.1026','324.1554','130.0499'];
const f2LabelMz = [317,227,309,173,324,632,623,429,520,547,512,413,622,661,137,161,188,227,303,123];
const f2LabelInt = [103,33,30.8,20.2,16.6,16.7,10.4,10.9,11.2,7.6,4.8,4.3,4.3,6.7,12.1,6.7,7.6,11.1,7.7,5.2];
const f2RightTicks = [0,.5,1,1.5,2,2.5,3];

/* ---------- Panel G: GO classification ---------- */
const goBpTerms = ['biological process involved in interspecies intera..','biological regulation','cellular process','developmental process','immune system process','localization','metabolic process','multicellular organismal process','reproduction','reproductive process','response to stimulus'];
const goBpCounts = [1,11,13,3,1,3,8,5,2,2,4];
const goCcTerms = ['cellular anatomical entity','protein-containing complex'];
const goCcCounts = [20,7];
const goMfTerms = ['binding','catalytic activity','molecular function regulator activity','structural molecule activity'];
const goMfCounts = [35,8,2,8];
const goYTicks = [0,10,20,30];

/* ---------- Panel H: KEGG pathways ---------- */
const keggPathways = ['Focal adhesion','Human papillomavirus infection','ECM-receptor interaction','PI3K-Akt signaling pathway','Proteoglycans in cancer','Amoebiasis','Protein digestion and absorption','AGE-RAGE signaling pathway in diabetic complications','Regulation of actin cytoskeleton','Relaxin signaling pathway','Neutrophil extracellular trap formation','Platelet activation','Diabetic cardiomyopathy','Systemic lupus erythematosus','Pathways in cancer','Salmonella infection','Alcoholism','Amyotrophic lateral sclerosis','Motor proteins','Metabolic pathways','Small cell lung cancer','Viral carcinogenesis','Malaria','African trypanosomiasis','Pathways of neurodegeneration - multiple diseases','Leukocyte transendothelial migration','Adherens junction','Arginine and proline metabolism','Valine, leucine and isoleucine degradation','Glycolysis / Gluconeogenesis'];
const keggCounts = [8,6,6,6,5,5,5,5,5,4,4,4,3,3,3,3,3,3,3,3,2,2,2,2,2,2,2,1,1,1];
const keggTicks = [0,2,4,6,8];

/* ---------- Panels I, J: amino acid composition ---------- */
const aaILabels = ['Asp','Ala','Arg','Gly','Glu','Ser','Met','Tyr','His','Pro'];
const aaIValues = [4.3,8.9,6,20,7.4,2.2,.57,.61,.62,13];
const aaIErrors = [.35,.8,.4,.35,.35,.27,.02,.03,.03,.35];
const aaIUpperTicks = [5,10,15,20,25];
const aaILowerTicks = [0,.2,.4,.6,.8];
const aaJLabels = ['Ile','Thr','Leu','Lys','Phe','Val'];
const aaJValues = [1.22,1.62,2.83,3.04,1.67,2.2];
const aaJErrors = [.19,.11,.19,.22,.11,.14];
const aaJTicks = [0,1,2,3,4];

/* ---------- Helpers ---------- */
const NS = 'http://www.w3.org/2000/svg';
const fig = document.getElementById('figure');
function add(tag, name, attrs, parent) {
  const el = document.createElementNS(NS, tag);
  
  
  for (const k in attrs) el.setAttribute(k, attrs[k]);
  (parent || fig).appendChild(el);
  return el;
}
function label(name, x, y, str, size, extra, parent) {
  const t = add('text', name, Object.assign({x: x, y: y, 'font-size': size}, extra || {}), parent);
  t.textContent = str;
  return t;
}
function rotLabel(name, x, y, str, size, angle, extra, parent) {
  const t = add('text', name, Object.assign({'font-size': size, transform: 'translate(' + x + ' ' + y + ') rotate(' + angle + ')'}, extra || {}), parent);
  t.textContent = str;
  return t;
}
function scale(d0, d1, r0, r1) { return function (v) { return r0 + (v - d0) * (r1 - r0) / (d1 - d0); }; }
function line(name, x1, y1, x2, y2, stroke, w, parent) {
  return add('line', name, {x1: x1, y1: y1, x2: x2, y2: y2, stroke: stroke, 'stroke-width': w}, parent);
}

/* ---------- Chromatogram ---------- */
function drawChrom(c) {
  const g = add('g', c.name, {});
  const x = scale(0, 85, c.x0, c.x85), y = scale(0, 100, c.y0, c.y100);
  const xEnd = x(88);
  const pts = [];
  const n = Math.min(c.time.length, c.abund.length);
  for (let i = 0; i < n; i++) pts.push(x(c.time[i]).toFixed(1) + ',' + y(c.abund[i]).toFixed(1));
  add('polyline', 'chromatogram-trace', {points: pts.join(' '), fill: 'none', stroke: c.color, 'stroke-width': 1.4}, g);
  line('y-axis-line', x(0), y(100), x(0), y(0), c.axis, 1.2, g);
  line('x-axis-line', x(0), y(0), xEnd, y(0), c.axis, 1.2, g);
  for (let v = 0; v <= 100; v++) line('y-tick', x(0) - (v % 5 === 0 ? 7 : 3), y(v), x(0), y(v), c.axis, 1, g);
  for (let v = 0; v <= 88; v++) line('x-tick', x(v), y(0), x(v), y(0) + (v % 5 === 0 ? 6 : 3), c.axis, 1, g);
  chromYTicks.forEach(function (v) {
    label('y-tick-label', x(0) - 10, y(v) + 5, String(v), 14.5, {'text-anchor': 'end'}, g);
  });
  chromXTicks.forEach(function (v) {
    label('x-tick-label', x(v), y(0) + 22, String(v), 14.5, {'text-anchor': 'middle'}, g);
  });
  c.labels.forEach(function (s, i) {
    const lx = c.pos ? c.pos[i] : parseFloat(s) + (c.shift ? c.shift[i] : 0);
    label('peak-label', x(lx), y(c.labelAbund[i]) + 5, s, 14.5, {'text-anchor': 'middle'}, g);
    if (c.shift && c.shift[i] !== 0) {
      line('peak-leader', x(lx) + 8, y(c.labelAbund[i]) + 8, x(parseFloat(s)), y(c.labelAbund[i]) + 9, '#7fc67f', 1, g);
    }
  });
}
drawChrom({name: 'panel-a-chromatogram', x0: 259.5, x85: 1501, y0: 872.5, y100: 158, time: chromATime, abund: chromAAbund, labels: chromALabelRt, labelAbund: chromALabelAbund, shift: chromALabelShift, color: '#111', axis: '#222'});
drawChrom({name: 'panel-b-chromatogram', x0: 1935, x85: 3147, y0: 871, y100: 158, time: chromBTime, abund: chromBAbund, labels: chromBLabelRt, labelAbund: chromBLabelAbund, pos: chromBLabelPos, color: '#d4d4d4', axis: '#ddd'});

/* ---------- Distribution bars ---------- */
function drawDist(c) {
  const g = add('g', c.name, {});
  const x = function (i) { return c.x0 + c.step * i; };
  const y = scale(0, c.yTicks[c.yTicks.length - 1], c.yBase, c.yTop);
  c.cats.forEach(function (cat, i) {
    const top = y(c.values[i]);
    const h = Math.max(c.yBase - top, .6);
    add('rect', 'bar-' + cat, {x: x(i) - c.barW / 2, y: c.yBase - h, width: c.barW, height: h, fill: '#ee3b3e', stroke: '#333', 'stroke-width': 1.4}, g);
    rotLabel('x-tick-label', x(i), c.yBase + 12, cat, 21.5, -90, {'text-anchor': 'end', 'dominant-baseline': 'central'}, g);
  });
  line('y-axis-line', c.axisX, y(c.yTicks[c.yTicks.length - 1]), c.axisX, c.yBase, '#222', 1.4, g);
  c.yTicks.forEach(function (v) {
    line('y-tick', c.axisX - 13, y(v), c.axisX, y(v), '#222', 1.4, g);
    label('y-tick-label', c.axisX - 15, y(v) + 9, String(v), 24, {'text-anchor': 'end'}, g);
  });
  if (c.percent) {
    const yp = scale(0, 100, c.yBase, c.pTop);
    const pts = c.percent.map(function (p, i) { return x(i).toFixed(1) + ',' + yp(p).toFixed(1); });
    add('polyline', 'cumulative-line', {points: pts.join(' '), fill: 'none', stroke: '#1f2a8a', 'stroke-width': 3}, g);
    c.percent.forEach(function (p, i) {
      add('circle', 'cumulative-point', {cx: x(i), cy: yp(p), r: 5.5, fill: '#1f2a8a'}, g);
    });
    line('y2-axis-line', 1543, yp(100), 1543, c.yBase, '#222', 1.4, g);
    percentTicks.forEach(function (v) {
      line('y2-tick', 1543, yp(v), 1556, yp(v), '#222', 1.4, g);
      label('y2-tick-label', 1557, yp(v) + 9, String(v), 24, {}, g);
    });
  }
}
drawDist({name: 'panel-c-mw-chart', cats: mwCategories, values: mwBbfCounts, percent: mwBbfPercent, x0: 417.6, step: 52.94, barW: 44.7, yBase: 1628, yTop: 1046, pTop: 1119, axisX: 351, yTicks: mwBbfYTicks});
drawDist({name: 'panel-c-length-chart', cats: lengthCategories, values: lengthBbfCounts, x0: 2089, step: 56.9, barW: 48, yBase: 1628, yTop: 1112, axisX: 2017, yTicks: lengthBbfYTicks});
drawDist({name: 'panel-d-mw-chart', cats: mwCategories, values: mwNonCounts, percent: mwNonPercent, x0: 417.6, step: 52.94, barW: 44.7, yBase: 2505, yTop: 1971, pTop: 1996, axisX: 351, yTicks: mwNonYTicks});
drawDist({name: 'panel-d-length-chart', cats: lengthCategories, values: lengthNonCounts, x0: 2089, step: 56.9, barW: 48, yBase: 2505, yTop: 1921, axisX: 2017, yTicks: lengthNonYTicks});

/* ---------- Spectra ---------- */
const ionColors = {black: '#111', red: '#e8202a', blue: '#2c3e9e', orange: '#f5a623', aion: '#8ecae6'};
function ionColor(t) {
  if (t.charAt(0) === 'a') return ionColors.aion;
  if (t.indexOf('-') >= 0) return ionColors.orange;
  return t.charAt(0) === 'b' ? ionColors.blue : ionColors.red;
}
function ionLabel(name, x, y, t, size, weight, color, parent) {
  const el = add('text', name, {x: x, y: y, 'font-size': size, 'font-weight': weight, 'text-anchor': 'middle', fill: color}, parent);
  const parts = t.split(/(\d+)/);
  parts.forEach(function (p) {
    if (!p) return;
    const s = add('tspan', 'ion-label-part', /^\d+$/.test(p) ? {'font-size': size * .72} : {}, el);
    s.textContent = p;
  });
  return el;
}
function drawSpectrum(c) {
  const g = add('g', c.name, {});
  const x = scale(c.m0, c.m1, c.px0, c.px1), y = scale(0, 100, c.y0, c.y100);
  c.series.forEach(function (s) {
    const n = Math.min(s.mz.length, s.int.length);
    for (let i = 0; i < n; i++) line('peak-' + s.kind, x(s.mz[i]), c.y0, x(s.mz[i]), y(s.int[i]), ionColors[s.kind], 1.5, g);
  });
  line('x-axis-line', c.left, c.y0, c.right, c.y0, '#222', 1.6, g);
  line('y-axis-line', c.left, y(120), c.left, c.y0, '#222', 1.4, g);
  line('y2-axis-line', c.right, y(120), c.right, c.y0, '#222', 1.2, g);
  for (let v = 0; v <= 120; v += 5) line('y-tick', c.left - (v % 20 === 0 ? 7 : 3), y(v), c.left, y(v), '#222', 1, g);
  specYTicks.forEach(function (v) {
    rotLabel('y-tick-label', c.left - 13, y(v), String(v), 13, -90, {'text-anchor': 'middle'}, g);
  });
  c.xTicks.forEach(function (v) {
    line('x-tick', x(v), c.y0, x(v), c.y0 + 7, '#222', 1.2, g);
    label('x-tick-label', x(v), c.y0 + 19, String(v), 13.5, {'text-anchor': 'middle'}, g);
  });
  const minor = (c.xTicks[1] - c.xTicks[0]) / 5;
  for (let m = c.m0 - 2 * minor; x(m) < c.right; m += minor) {
    if (x(m) > c.left) line('x-minor-tick', x(m), c.y0, x(m), c.y0 + 3.5, '#222', 1, g);
  }
  const yr = scale(0, c.rTopVal, c.rBase, c.rTopY);
  c.rTicks.forEach(function (v) {
    line('y2-tick', c.right, yr(v), c.right + 7, yr(v), '#222', 1, g);
    rotLabel('y2-tick-label', c.right + 10, yr(v), String(v), 13, 90, {'text-anchor': 'middle'}, g);
  });
  rotLabel('y2-unit', c.unitX, c.unitY, c.unit, 14, 90, {'text-anchor': 'middle', 'font-weight': 'bold'}, g);
  c.text.forEach(function (t, i) {
    const col = ionColor(t);
    ionLabel('ion-label', x(c.lMz[i]), y(c.lInt[i]) + 6, t, 16.5, 'bold', col, g);
    label('ion-mz', x(c.lMz[i]), y(c.lInt[i]) + 17, c.sub[i], 8, {'text-anchor': 'middle', fill: col}, g);
  });
}
function sticks(kind, mz, intensity) { return {kind: kind, mz: mz, int: intensity}; }
drawSpectrum({name: 'panel-e-left-spectrum', m0: 100, m1: 1050, px0: 295.5, px1: 1618, y0: 3357, y100: 2855, left: 240, right: 1650, xTicks: specTicks50,
  series: [sticks('black', e1BlackMz, e1BlackInt), sticks('orange', e1OrangeMz, e1OrangeInt), sticks('blue', e1BlueMz, e1BlueInt), sticks('red', e1RedMz, e1RedInt)],
  text: e1LabelText, sub: e1LabelSub, lMz: e1LabelMz, lInt: e1LabelInt, rTicks: e1RightTicks, rTopVal: 2, rTopY: 2776.5, rBase: 3355, unit: '[1e6]', unitX: 1679, unitY: 3057});
drawSpectrum({name: 'panel-e-right-spectrum', m0: 100, m1: 1050, px0: 1959, px1: 3305, y0: 3359, y100: 2857, left: 1908, right: 3319, xTicks: specTicks50,
  series: [sticks('black', e2BlackMz, e2BlackInt), sticks('orange', e2OrangeMz, e2OrangeInt), sticks('aion', e2AionMz, e2AionInt), sticks('blue', e2BlueMz, e2BlueInt), sticks('red', e2RedMz, e2RedInt)],
  text: e2LabelText, sub: e2LabelSub, lMz: e2LabelMz, lInt: e2LabelInt, rTicks: e2RightTicks, rTopVal: 3, rTopY: 2835.6, rBase: 3357.6, unit: '[1e6]', unitX: 3346, unitY: 3059});
drawSpectrum({name: 'panel-f-left-spectrum', m0: 100, m1: 2100, px0: 276, px1: 1590, y0: 4191, y100: 3693, left: 246, right: 1641, xTicks: specTicks100,
  series: [sticks('black', f1BlackMz, f1BlackInt), sticks('orange', f1OrangeMz, f1OrangeInt), sticks('blue', f1BlueMz, f1BlueInt), sticks('red', f1RedMz, f1RedInt)],
  text: f1LabelText, sub: f1LabelSub, lMz: f1LabelMz, lInt: f1LabelInt, rTicks: f1RightTicks, rTopVal: 6, rTopY: 3663, rBase: 4190, unit: '[1e7]', unitX: 1677, unitY: 3893});
drawSpectrum({name: 'panel-f-right-spectrum', m0: 100, m1: 1050, px0: 1969, px1: 3294, y0: 4186, y100: 3693, left: 1910, right: 3307, xTicks: specTicks50,
  series: [sticks('black', f2BlackMz, f2BlackInt), sticks('orange', f2OrangeMz, f2OrangeInt), sticks('aion', f2AionMz, f2AionInt), sticks('blue', f2BlueMz, f2BlueInt), sticks('red', f2RedMz, f2RedInt)],
  text: f2LabelText, sub: f2LabelSub, lMz: f2LabelMz, lInt: f2LabelInt, rTicks: f2RightTicks, rTopVal: 3, rTopY: 3624, rBase: 4184, unit: '[1e6]', unitX: 3340, unitY: 3890});

/* ---------- Peptide sequence maps ---------- */
function drawSeq(c) {
  const g = add('g', c.name, {});
  const x = function (i) { return c.x0 + c.step * i; };
  c.letters.split('').forEach(function (ch, i) {
    label('sequence-residue', x(i), c.y + 7, ch, 19, {'text-anchor': 'middle', fill: '#333'}, g);
  });
  const half = c.step / 2 - 1;
  c.yIdx.forEach(function (idx, i) {
    const px = x(idx);
    add('polyline', 'y-ion-bracket', {points: (px - half) + ',' + c.y + ' ' + (px - half) + ',' + (c.y - 26) + ' ' + (px + half) + ',' + (c.y - 26), fill: 'none', stroke: '#e8202a', 'stroke-width': 1.4}, g);
    label('y-ion-tag', px, c.y - 13, c.yTxt[i], 11, {'text-anchor': 'middle', fill: '#e8202a'}, g);
  });
  c.bIdx.forEach(function (idx, i) {
    const px = x(idx);
    add('polyline', 'b-ion-bracket', {points: (px - half) + ',' + (c.y + 25) + ' ' + (px + half) + ',' + (c.y + 25) + ' ' + (px + half) + ',' + c.y, fill: 'none', stroke: '#2c3e9e', 'stroke-width': 1.4}, g);
    label('b-ion-tag', px, c.y + 22, c.bTxt[i], 11, {'text-anchor': 'middle', fill: '#2c3e9e'}, g);
  });
}
drawSeq({name: 'panel-e-left-sequence', letters: '-GRAGVMGPAGSRGATGPAGVRGPNG-', x0: 221, step: 27, y: 3477,
  yIdx: [7,8,9,10,15,16,17,18,19,20,21,22,23,24], yTxt: ['y19','y18','y17','y16','y11','y10','y9²⁺','y8','y7','y6','y5','y4','y3','y2'],
  bIdx: [2,4,5,6,7,8,10,12,14,15,16,18,19,20,21], bTxt: ['b2','b4','b5','b6','b7','b8','b10','b12²','b14','b15²','b16','b18','b19²','b20²','b21']});
drawSeq({name: 'panel-e-right-sequence', letters: '-LSFLPQPPQE-', x0: 1889.5, step: 27.1, y: 3480,
  yIdx: [4,5,7,8,9,10], yTxt: ['y7','y6','y4','y3','y2','y1'],
  bIdx: [2,3,4,5,6,7], bTxt: ['b2','b3','b4','b5','b6','b7']});
drawSeq({name: 'panel-f-left-sequence', letters: '-GRAGVMGPAGSRGATGPAGVRGPNG-', x0: 227, step: 30.9, y: 4314,
  yIdx: [2,3,4,5,6,7,8,13,14,15,16,17,18,19,20,22,23], yTxt: ['y24','y23','y22','y21²','y20','y19','y18','y13','y12','y11','y10','y9','y8','y7','y6','y4','y3'],
  bIdx: [2,3,5,6,7,9,12,15,16,18,19,20,21], bTxt: ['b2','b3','b5','b6','b7','b9','b12','b15²','b16','b18','b19','b20','b21']});
drawSeq({name: 'panel-f-right-sequence', letters: '-LSFLPQPPQ-', x0: 1889.5, step: 31, y: 4310,
  yIdx: [4,5,7,8,9], yTxt: ['y6','y5','y3','y2','y1'],
  bIdx: [2,3,4,5,6], bTxt: ['b2','b3','b4','b5','b6']});

/* ---------- GO chart ---------- */
const goY = scale(0, 30, 4703, 4502);
function goFacet(name, terms, counts, firstX, color, axisFrom, axisTo) {
  const g = add('g', name, {});
  line('facet-x-axis', axisFrom, 4714, axisTo, 4714, '#222', 2.6, g);
  terms.forEach(function (t, i) {
    const cx = firstX + 80.3 * i;
    const top = goY(counts[i]);
    add('rect', 'bar-' + t.replace(/[^a-z]+/gi, '-').toLowerCase(), {x: cx - 36, y: top, width: 72, height: 4703 - top, fill: color}, g);
    line('x-tick', cx, 4714, cx, 4720, '#333', 1.4, g);
    rotLabel('x-tick-label', cx + 6, 4724, t, 20, -85, {'text-anchor': 'end', 'dominant-baseline': 'central', fill: '#222'}, g);
  });
}
goFacet('go-bp-facet', goBpTerms, goBpCounts, 302, '#f6766d', 254, 1153);
goFacet('go-cc-facet', goCcTerms, goCcCounts, 1209, '#2cb34a', 1160, 1337);
goFacet('go-mf-facet', goMfTerms, goMfCounts, 1393, '#7097d0', 1346, 1682);
line('go-y-axis', 254, 4456, 254, 4714, '#222', 2.2);
goYTicks.forEach(function (v) {
  line('go-y-tick', 250, goY(v), 254, goY(v), '#555', 1.2);
  label('go-y-tick-label', 248, goY(v) + 5, String(v), 14, {'text-anchor': 'end', fill: '#999'});
});

/* ---------- KEGG chart ---------- */
const keggX = scale(0, 8, 2672, 3202);
keggPathways.forEach(function (p, i) {
  const cy = 4476.8 + 19.93 * i;
  add('rect', 'kegg-bar', {x: keggX(0), y: cy - 8.3, width: keggX(keggCounts[i]) - keggX(0), height: 16.6, fill: '#29afe0'});
  label('kegg-label', 2657, cy + 7.5, p, 22, {'text-anchor': 'end'});
});
line('kegg-x-axis', keggX(0), 5085.5, keggX(8), 5085.5, '#222', 1.6);
keggTicks.forEach(function (v) {
  line('kegg-x-tick', keggX(v), 5085.5, keggX(v), 5099, '#222', 1.4);
  label('kegg-x-tick-label', keggX(v), 5122, String(v), 24, {'text-anchor': 'middle'});
});

/* ---------- Amino acid charts ---------- */
const aaFills = ['#8a9db8','#a2ae8a','#e0a878','#e6e88a','#e4a8ad','#fcba7c','#8a9db8','#a2ae8a','#e0a878','#d8d898'];
const aaStrokes = ['#808080','#8a7d3a','#c89850','#bfc02e','#c47f9e','#f58220','#808080','#8a7d3a','#c89850','#857f30'];
const axisGray = '#868686';
function openBar(cx, w, top, bottom, fill, stroke, closedTop, parent) {
  add('rect', 'bar-fill', {x: cx - w / 2, y: top, width: w, height: bottom - top, fill: fill}, parent);
  const d = closedTop
    ? 'M' + (cx - w / 2) + ' ' + bottom + 'V' + top + 'H' + (cx + w / 2) + 'V' + bottom
    : 'M' + (cx - w / 2) + ' ' + bottom + 'V' + top + 'M' + (cx + w / 2) + ' ' + bottom + 'V' + top;
  add('path', 'bar-outline', {d: d, fill: 'none', stroke: stroke, 'stroke-width': 5}, parent);
}
function errorBar(cx, yTop, yVal, capW, color, parent) {
  line('error-bar', cx, yVal, cx, yTop, color, 3, parent);
  line('error-cap', cx - capW / 2, yTop, cx + capW / 2, yTop, color, 4, parent);
}
/* panel I */
(function () {
  const g = add('g', 'panel-i-chart', {});
  const yU = scale(0, 25, 5594, 5306), yL = scale(0, .8, 5908, 5629);
  const xI = function (i) { return 567 + 97.1 * i; };
  aaILabels.forEach(function (name, i) {
    const v = aaIValues[i], e = aaIErrors[i], cx = xI(i), f = aaFills[i], s = aaStrokes[i];
    if (v > .8) {
      openBar(cx, 60, 5629, 5908, f, s, false, g);
      openBar(cx, 60, yU(v), 5584, f, s, true, g);
      errorBar(cx, yU(v + e), yU(v), 30, axisGray, g);
    } else {
      openBar(cx, 60, yL(v), 5908, f, s, true, g);
      errorBar(cx, yL(v + e), yL(v), 30, axisGray, g);
    }
    line('x-tick', cx, 5908, cx, 5933, axisGray, 4, g);
    label('x-tick-label', cx, 5971, name, 36, {'text-anchor': 'middle', class: 'serif'}, g);
  });
  line('upper-y-axis', 504, 5306, 504, 5575, axisGray, 3.5, g);
  line('lower-y-axis', 504, 5612, 504, 5908, axisGray, 3.5, g);
  line('axis-break-upper', 489, 5575, 519, 5603, axisGray, 4, g);
  line('axis-break-lower', 489, 5612, 519, 5642, axisGray, 4, g);
  aaIUpperTicks.forEach(function (v) {
    line('y-tick', 473, yU(v), 504, yU(v), axisGray, 6, g);
    label('y-tick-label', 469, yU(v) + 15, String(v), 45, {'text-anchor': 'end', class: 'serif'}, g);
  });
  aaILowerTicks.forEach(function (v) {
    line('y-tick', 473, yL(v), 504, yL(v), axisGray, 6, g);
    label('y-tick-label', 469, yL(v) + 15, v.toFixed(1), 45, {'text-anchor': 'end', class: 'serif'}, g);
  });
  line('x-baseline', 473, 5908, 1511, 5908, axisGray, 6, g);
})();
/* panel J */
(function () {
  const g = add('g', 'panel-j-chart', {});
  const y = scale(0, 4, 5887, 5329);
  const xJ = function (i) { return 2331 + 129.6 * i; };
  aaJLabels.forEach(function (name, i) {
    const v = aaJValues[i], cx = xJ(i), f = aaFills[i], s = aaStrokes[i];
    openBar(cx, 80, y(v), 5887, f, s, true, g);
    errorBar(cx, y(v + aaJErrors[i]), y(v), 41, i === 5 ? '#f58220' : axisGray, g);
    line('x-tick', cx, 5887, cx, 5911, axisGray, 4, g);
    label('x-tick-label', cx, 5947, name, 38, {'text-anchor': 'middle', class: 'serif'}, g);
  });
  line('y-axis-line', 2246, 5329, 2246, 5887, axisGray, 3.5, g);
  aaJTicks.forEach(function (v) {
    line('y-tick', 2209, y(v), 2246, y(v), axisGray, 6, g);
    label('y-tick-label', 2205, y(v) + 16, String(v), 48, {'text-anchor': 'end', class: 'serif'}, g);
  });
  line('x-baseline', 2209, 5887, 3072, 5887, axisGray, 6, g);
})();
</script>
</body>
</html>
